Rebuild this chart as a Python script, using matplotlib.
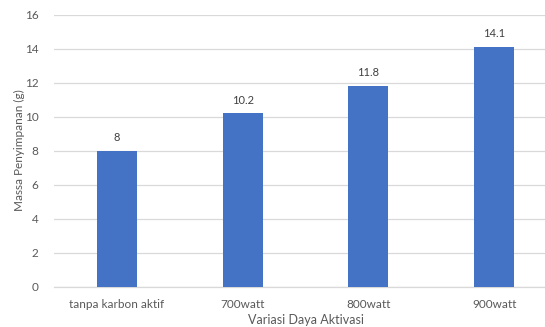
import matplotlib
matplotlib.use("Agg")
import matplotlib.pyplot as plt

categories = ["tanpa karbon aktif", "700watt", "800watt", "900watt"]
massa = [8, 10.2, 11.8, 14.1]
value_labels = ["8", "10.2", "11.8", "14.1"]
y_ticks = [0, 2, 4, 6, 8, 10, 12, 14, 16]

plt.rcParams["font.family"] = ["Lato", "DejaVu Sans"]

fig = plt.figure(figsize=(5.45, 3.27), dpi=100)
ax = fig.add_axes([54 / 545, 1 - 286.7 / 327, (557 - 54) / 545, (286.7 - 14.7) / 327])

x = range(len(categories))
bars = ax.bar(x, massa, width=0.318, color="#4472C4", zorder=3)
for b, lab in zip(bars, value_labels):
    ax.text(b.get_x() + b.get_width() / 2, b.get_height() + 0.45, lab,
            ha="center", va="bottom", fontsize=8, color="#404040")

ax.set_xlim(-0.5, 3.5)
ax.set_ylim(0, 16)
ax.set_yticks(y_ticks)
ax.set_xticks(list(x))
ax.set_xticklabels(categories)
ax.tick_params(axis="both", length=0, labelsize=8.5, colors="#595959")
ax.tick_params(axis="y", pad=11)
ax.tick_params(axis="x", pad=9)
ax.grid(axis="y", color="#D9D9D9", linewidth=0.9, zorder=0)
for s in ["top", "right", "left"]:
    ax.spines[s].set_visible(False)
ax.spines["bottom"].set_color("#D9D9D9")
ax.spines["bottom"].set_linewidth(0.9)

fig.text(19 / 545, 1 - 150 / 327, "Massa Penyimpanan (g)", rotation=90,
         ha="center", va="center", fontsize=8.5, color="#595959")
fig.text(306 / 545, 1 - 324.5 / 327, "Variasi Daya Aktivasi",
         ha="center", va="baseline", fontsize=9, color="#595959")

fig.savefig("out.png", dpi=100)
